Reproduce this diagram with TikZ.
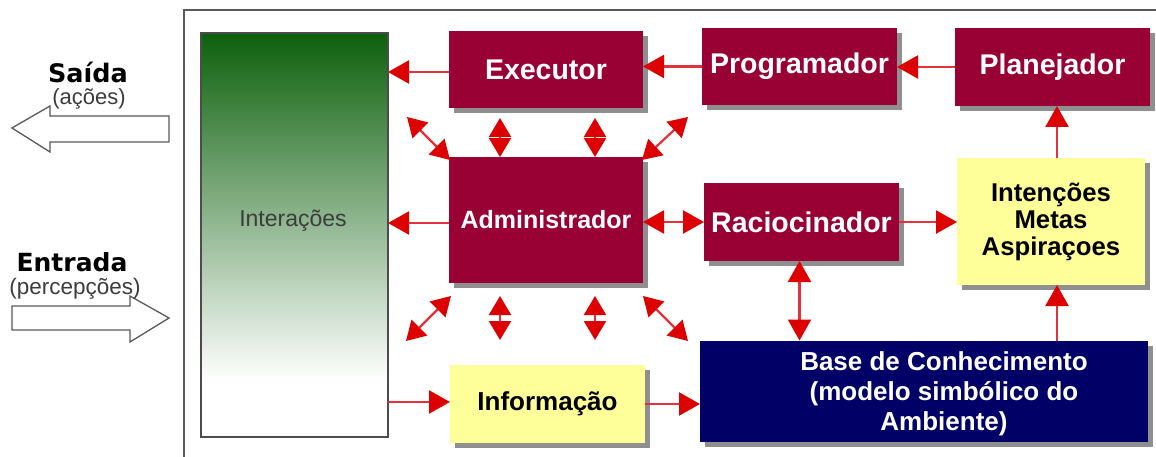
\documentclass[tikz,border=0pt]{standalone}
\usepackage{fontspec}
\setmainfont{Liberation Sans}
\newfontfamily\dvsans{DejaVu Sans}
\usetikzlibrary{arrows.meta,shadows}
\definecolor{boxmaroon}{RGB}{153,0,51}
\definecolor{boxnavy}{RGB}{0,0,102}
\definecolor{boxyellow}{RGB}{255,255,153}
\definecolor{headred}{RGB}{221,0,0}
\definecolor{linered}{RGB}{228,50,60}
\definecolor{dkgreen}{RGB}{12,96,12}
\definecolor{txtgray}{RGB}{60,60,60}
\pgfdeclareverticalshading{intershade}{100bp}{color(0bp)=(white); color(32bp)=(white); color(75bp)=(dkgreen); color(100bp)=(dkgreen)}
\tikzset{
  boxbase/.style={inner sep=0pt, outer sep=0pt, align=center,
    font=\bfseries\fontsize{28.5}{30}\selectfont,
    drop shadow={shadow xshift=5pt, shadow yshift=-5pt, fill=black!80, opacity=0.55}},
  redbox/.style={boxbase, fill=boxmaroon, text=white},
  yelbox/.style={boxbase, fill=boxyellow, text=black},
  navybox/.style={boxbase, fill=boxnavy, text=white},
  tipA/.tip={Triangle[length=21pt, width=23pt, color=headred]},
  tipB/.tip={Triangle[length=19pt, width=22pt, color=headred]},
  arr/.style={draw=linered, line width=2.2pt, -tipA},
  darr/.style={draw=linered, line width=2.2pt, tipA-tipA},
  sarr/.style={draw=linered, line width=2.2pt, tipB-tipB},
  hollow/.style={draw=black!65, line width=1.3pt, fill=white, line join=miter},
  frame/.style={draw=black!65, line width=1.5pt}
}
\begin{document}
\begin{tikzpicture}[x=1pt,y=-1pt]
\useasboundingbox (0,0) rectangle (1156,457);
\fill[white] (0,0) rectangle (1156,457);
% frame
\draw[frame] (184,457) -- (184,10) -- (1156,10);
% interactions bar
\node[draw=black!70, line width=1.2pt, shading=intershade, minimum width=187pt, minimum height=404pt,
  inner sep=0pt, outer sep=0pt] (inter) at (294.5,235) {};
\node[text=txtgray, font=\fontsize{23}{25}\selectfont] (intertxt) at (293,221) {Interações};
% boxes
\node[redbox, minimum width=194pt, minimum height=77pt] (exe) at (546,69.5) {Executor};
\node[redbox, minimum width=195pt, minimum height=77pt] (prog) at (799.5,66.5) {Programador};
\node[redbox, minimum width=195pt, minimum height=78pt] (plan) at (1052.5,67) {Planejador};
\node[redbox, minimum width=194pt, minimum height=126pt, font=\bfseries\fontsize{25}{27}\selectfont] (adm) at (546,220) {Administrador};
\node[redbox, minimum width=195pt, minimum height=78pt] (rac) at (801.5,222) {Raciocinador};
\node[yelbox, minimum width=188pt, minimum height=127pt, font=\bfseries\fontsize{25.7}{27}\selectfont] (int) at (1051,221.5) {Intenções\\Metas\\Aspiraçoes};
\node[navybox, minimum width=448pt, minimum height=101pt] (base) at (924,391) {};
\node[text=white, align=center, font=\bfseries\fontsize{26}{30}\selectfont] (basetxt) at (944,394) {Base de Conhecimento\\(modelo simbólico do\\Ambiente)};
\node[yelbox, minimum width=195pt, minimum height=78pt, font=\bfseries\fontsize{26}{28}\selectfont] (info) at (547.5,404) {Informação};
% left side
\node[font=\dvsans\bfseries\fontsize{25.5}{27}\selectfont] (saida) at (88,72) {Saída};
\node[font=\dvsans\bfseries\fontsize{25}{27}\selectfont] (entrada) at (72,262) {Entrada};
\draw[hollow] (12,128) -- (50,106) -- (50,116) -- (169,116) -- (169,142) -- (50,142) -- (50,152) -- cycle;
\draw[hollow] (12,306) -- (130,306) -- (130,296) -- (169,318) -- (130,342) -- (130,330) -- (12,330) -- cycle;
\node[text=txtgray, font=\fontsize{22}{24}\selectfont] (acoes) at (89,99) {(ações)};
\node[text=txtgray, font=\fontsize{22.5}{24}\selectfont] (percep) at (75,289) {(percepções)};
% main arrows
\draw[arr] ([yshift=-2.5pt]exe.west) -- ([yshift=-2.5pt]exe.west -| inter.east);
\draw[arr] (prog.west) -- (prog.west -| exe.east);
\draw[arr] (plan.west) -- (plan.west -| prog.east);
\draw[arr] ([yshift=-3pt]adm.west) -- ([yshift=-3pt]adm.west -| inter.east);
\draw[darr] (rac.west -| adm.east) -- (rac.west);
\draw[arr] (rac.east) -- (rac.east -| int.west);
\draw[arr] ([xshift=6pt]int.north) -- ([xshift=6pt]int.north |- plan.south);
\draw[arr] ([xshift=6pt]int.south |- base.north) -- ([xshift=6pt]int.south);
\draw[darr] ([xshift=-2pt]rac.south) -- ([xshift=-2pt]rac.south |- base.north);
\draw[arr] ([yshift=2pt]info.west -| inter.east) -- ([yshift=2pt]info.west);
\draw[arr] (info.east) -- (info.east -| base.west);
% small arrows around Administrador
\coordinate (tl) at (407,117);
\coordinate (tv1) at (500,118);
\coordinate (tv2) at (595,118);
\coordinate (tr) at (688,117);
\coordinate (bl1) at (451,296);
\coordinate (bl2) at (406,341);
\coordinate (bv1a) at (500,296);
\coordinate (bv1b) at (500,340);
\coordinate (bv2a) at (595,296);
\coordinate (bv2b) at (595,340);
\coordinate (br1) at (643,296);
\coordinate (br2) at (688,341);
\draw[sarr] (tl) -- ([shift={(1pt,-3pt)}]adm.north west);
\draw[sarr] (tv1) -- (tv1 |- adm.north);
\draw[sarr] (tv2) -- (tv2 |- adm.north);
\draw[sarr] (tr) -- ([shift={(-1pt,-3pt)}]adm.north east);
\draw[sarr] (bl1) -- (bl2);
\draw[sarr] (bv1a) -- (bv1b);
\draw[sarr] (bv2a) -- (bv2b);
\draw[sarr] (br1) -- (br2);
\end{tikzpicture}
\end{document}
